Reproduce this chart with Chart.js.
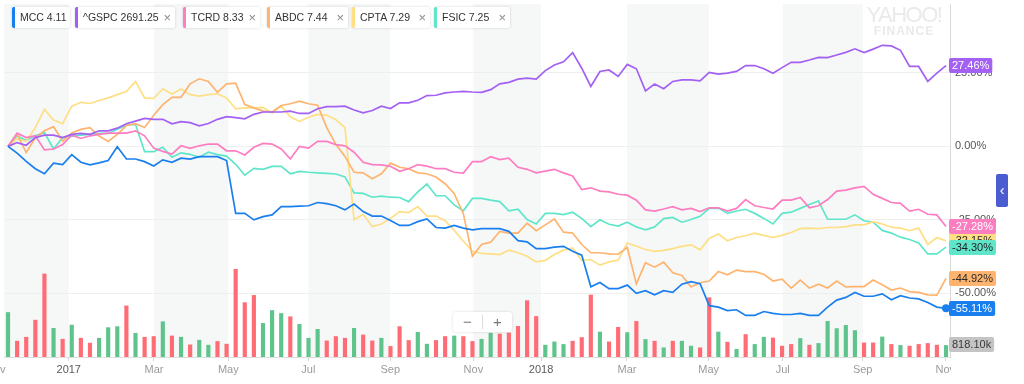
<!DOCTYPE html>
<html lang="en">
<head>
  <meta charset="UTF-8">
  <title>MCC vs peers</title>
  <script src="https://cdn.jsdelivr.net/npm/chart.js@4"></script>
  <style>
    body { margin: 0; background: #fff; font-family: 'Liberation Sans', Arial, sans-serif; }
    #wrap { position: relative; width: 1024px; height: 384px; overflow: hidden; }
    #chart { position: absolute; left: 0; top: 0; }
    .chip { position: absolute; top: 7px; height: 21px; line-height: 21px; background: #fff; color: #333;
            font-size: 10.5px; border-left: 3px solid #999; border-radius: 2px; padding-left: 5px;
            box-sizing: border-box; box-shadow: 0 0 3px rgba(0,0,0,0.16); white-space: nowrap; }
    .chip .x { position: absolute; right: 4px; top: 0; color: #8a8a8a; font-size: 13px; }
    #wm { position: absolute; left: 862px; top: 5px; width: 84px; text-align: center; color: #e8eaeb; }
    #wm .a { font-size: 22px; letter-spacing: -1.5px; line-height: 20px; }
    #wm .b { font-size: 12px; font-weight: bold; letter-spacing: 1px; line-height: 12px; }
    #zoomctl { position: absolute; left: 453px; top: 312px; width: 59px; height: 20px; background: #fff;
               border-radius: 3px; box-shadow: 0 0 3px rgba(0,0,0,0.15); color: #777; font-size: 15px;
               display: flex; align-items: center; }
    #zoomctl span { flex: 1; text-align: center; line-height: 20px; }
    #zoomctl i { width: 1px; height: 14px; background: #ddd; }
    #tab { position: absolute; left: 996px; top: 174px; width: 12px; height: 33px; background: #4b5bd0;
           border-radius: 2px; color: #fff; font-size: 14px; line-height: 33px; text-align: center; }
  </style>
</head>
<body>
<div id="wrap">
  <canvas id="chart" width="1024" height="384"></canvas>
  <div id="legend"></div>
  <div id="wm"><div class="a">YAHOO!</div><div class="b">FINANCE</div></div>
  <div id="zoomctl"><span>−</span><i></i><span>+</span></div>
  <div id="tab">‹</div>
</div>
<script>
  // ---- data (weekly, % change since Nov 2016) ----
  const symbols = ['MCC', '^GSPC', 'TCRD', 'ABDC', 'CPTA', 'FSIC'];
  const lastPrices = ['4.11', '2691.25', '8.33', '7.44', '7.29', '7.25'];

  const mcc = [0, -2.3, -5.1, -7.6, -9.3, -5.7, -6.2, -2.8, -5.4, -6.3,
    -5.6, -4.8, -0.1, -4.3, -4.3, -5.2, -6.7, -4.6, -5.4, -4.0,
    -4.3, -3.5, -3.5, -3.5, -4.8, -22.8, -22.8, -25.0, -23.9, -23.3,
    -20.5, -20.5, -20.3, -20.2, -19.1, -19.5, -20.2, -21.6, -19.6, -22.2,
    -23.7, -23.7, -25.2, -26.9, -26.9, -25.6, -24.7, -27.6, -27.8, -26.9,
    -27.8, -28.4, -28.0, -28.0, -28.0, -28.9, -32.1, -32.5, -34.8, -34.8,
    -34.3, -34.0, -35.7, -37.0, -47.8, -46.3, -48.4, -48.4, -47.2, -50.0,
    -49.1, -50.5, -49.1, -49.7, -46.9, -46.0, -46.7, -54.2, -54.7, -55.9,
    -55.6, -57.5, -57.5, -56.2, -56.8, -57.2, -57.2, -56.8, -57.5, -57.5,
    -54.7, -52.3, -51.4, -49.7, -51.0, -51.0, -50.2, -52.2, -50.8, -51.6,
    -51.9, -53.1, -54.7, -55.11];

  const gspc = [0, 1.3, 0.4, 3.0, 3.8, 3.8, 3.0, 4.1, 4.4, 4.1,
    5.3, 5.3, 6.2, 7.7, 8.6, 9.5, 9.2, 9.2, 7.7, 8.4,
    8.1, 7.0, 7.8, 9.2, 10.1, 9.8, 9.4, 10.9, 11.7, 11.7,
    11.7, 12.0, 11.2, 11.2, 12.8, 13.5, 13.5, 13.7, 12.4, 11.4,
    12.2, 13.7, 12.9, 14.8, 14.8, 15.7, 17.3, 17.4, 18.2, 18.5,
    18.7, 18.5, 18.4, 19.3, 21.3, 21.8, 22.9, 23.2, 22.9, 25.8,
    27.7, 28.8, 31.9, 26.6, 20.4, 25.5, 26.0, 23.8, 27.9, 26.4,
    18.9, 21.2, 19.6, 22.1, 22.6, 22.6, 22.3, 25.2, 24.6, 24.9,
    25.5, 27.5, 27.5, 26.4, 24.9, 26.8, 28.6, 28.6, 29.4, 30.3,
    30.2, 31.1, 32.0, 33.2, 31.9, 33.1, 34.4, 34.2, 32.7, 27.2,
    27.2, 22.1, 24.9, 27.46];

  const tcrd = [0, 4.5, 3.0, 3.6, -1.2, -0.9, 0.6, 3.8, 2.7, 3.6,
    4.1, 4.5, 4.5, 4.5, 5.3, 3.6, -0.6, -1.7, -2.6, 0.2,
    -0.7, 0.2, 0.8, 0.8, -1.5, -1.5, -2.9, -0.3, 1.0, 0.8,
    -0.9, -4.3, 0, -0.6, 1.7, 1.7, 0.6, 0.2, -2.0, -5.4,
    -6.2, -6.3, -6.8, -8.5, -7.6, -6.2, -6.7, -7.6, -7.6, -8.8,
    -9.1, -5.2, -5.2, -3.5, -4.5, -4.0, -7.1, -7.8, -9.0, -8.4,
    -7.8, -9.0, -10.1, -14.7, -14.1, -15.2, -15.5, -16.3, -16.6, -18.3,
    -21.6, -22.0, -21.3, -20.5, -21.6, -21.1, -22.2, -20.9, -20.9, -22.0,
    -21.1, -18.1, -20.2, -20.8, -21.3, -18.3, -18.3, -17.4, -20.9, -20.2,
    -18.1, -15.2, -14.9, -14.1, -13.6, -16.3, -17.7, -19.1, -19.4, -22.0,
    -21.4, -23.1, -23.3, -27.28];

  const abdc = [0, 4.1, -2.1, 2.9, 5.3, 6.7, 1.8, 4.6, 5.8, 6.4,
    3.5, 1.7, 4.1, 7.1, 7.7, 6.4, 10.6, 14.2, 16.7, 16.7,
    21.3, 23.0, 22.1, 18.4, 21.3, 21.5, 14.2, 13.1, 12.0, 11.7,
    13.9, 14.5, 15.4, 14.5, 14.0, 6.4, 0.7, -3.4, -8.8, -9.0,
    -11.0, -9.3, -5.7, -7.1, -7.6, -9.0, -9.3, -10.4, -12.7, -16.1,
    -22.9, -37.4, -33.4, -32.6, -28.9, -29.5, -29.5, -26.1, -28.7, -26.7,
    -24.7, -29.2, -29.5, -33.4, -36.2, -36.2, -36.6, -36.7, -34.4, -46.8,
    -39.6, -41.1, -39.4, -43.0, -43.9, -47.8, -46.4, -45.8, -42.6, -43.7,
    -42.1, -42.6, -42.6, -43.5, -45.8, -45.2, -48.2, -45.5, -48.2, -46.9,
    -48.2, -45.8, -47.8, -47.7, -47.7, -45.5, -47.1, -48.9, -48.2, -49.4,
    -49.7, -50.5, -50.6, -44.92];

  const cpta = [0, 2.5, 1.7, 6.4, 12.6, 9.0, 7.7, 13.7, 15.0, 14.6,
    15.6, 16.5, 17.6, 18.7, 22.1, 16.5, 16.3, 19.6, 17.8, 19.5,
    17.6, 17.1, 17.6, 17.9, 16.5, 12.8, 13.1, 13.1, 13.3, 11.4,
    13.7, 10.1, 8.5, 9.9, 10.9, 10.6, 9.1, 6.4, -25.0, -23.1,
    -27.3, -26.4, -24.5, -22.2, -22.5, -20.5, -23.7, -23.7, -25.3, -28.6,
    -32.3, -35.7, -36.4, -36.6, -36.8, -35.3, -36.2, -37.4, -39.3, -38.8,
    -36.8, -35.3, -34.6, -38.8, -38.5, -40.4, -39.3, -38.7, -32.9, -34.0,
    -35.1, -35.7, -35.4, -34.8, -34.0, -33.5, -35.2, -31.3, -29.8, -32.1,
    -31.0, -30.4, -29.5, -30.3, -31.0, -30.3, -29.3, -28.0, -27.8, -28.0,
    -27.6, -27.6, -27.3, -26.7, -26.7, -25.6, -26.4, -27.5, -27.8, -28.7,
    -27.8, -33.4, -31.0, -32.15];

  const fsic = [0, 3.6, 2.0, 3.6, 4.7, -0.9, 3.0, 3.4, 3.8, 4.1,
    4.4, 4.4, 5.8, 7.2, 7.5, -1.8, -1.8, -0.3, -3.7, -2.2,
    -2.7, -3.7, -2.0, -2.8, -3.3, -6.1, -9.8, -7.5, -7.8, -6.8,
    -6.8, -9.3, -8.5, -8.8, -9.0, -9.2, -9.4, -10.4, -15.8, -16.0,
    -17.3, -16.9, -17.3, -17.4, -18.8, -15.5, -12.8, -16.8, -16.8, -19.9,
    -21.9, -17.7, -17.7, -18.3, -18.8, -21.9, -21.4, -24.9, -26.4, -22.8,
    -22.8, -23.2, -22.4, -24.5, -27.3, -25.0, -26.5, -27.1, -25.8, -27.4,
    -28.4, -27.4, -24.6, -24.2, -25.8, -24.9, -23.8, -21.1, -21.0, -22.8,
    -22.0, -21.4, -22.8, -24.5, -26.4, -22.8, -22.4, -21.1, -19.8, -18.6,
    -24.8, -24.8, -24.8, -23.3, -25.3, -25.8, -28.6, -29.5, -30.9, -31.7,
    -32.9, -36.6, -36.6, -34.3];

  // MCC weekly volume, thousands of shares; 1 = up week (green), 0 = down week (red)
  const volume = [3150, 1120, 1400, 2610, 5880, 2030, 1260, 2260, 1330, 980,
    1330, 2080, 2150, 3620, 1680, 1400, 1450, 2500, 1490, 1400,
    860, 1190, 840, 1100, 910, 6210, 3850, 4360, 2380, 3290,
    3080, 2850, 2310, 1330, 1960, 1140, 1450, 1330, 2030, 1560,
    1140, 1330, 750, 2150, 1170, 1750, 910, 1170, 1450, 1490,
    1450, 1100, 1260, 1680, 1630, 1700, 2170, 3990, 2870, 840,
    1070, 890, 1120, 1380, 4390, 1770, 1070, 2100, 1730, 2520,
    1240, 1120, 650, 1120, 1120, 770, 650, 4200, 1770, 1050,
    540, 1590, 890, 1400, 1350, 770, 890, 1310, 840, 960,
    2520, 2010, 2240, 1870, 1000, 1000, 1420, 890, 820, 770,
    890, 960, 840, 818.1];
  const volumeUp = [1, 0, 0, 0, 0, 1, 0, 1, 0, 0,
    1, 1, 1, 0, 1, 0, 0, 1, 0, 1,
    0, 1, 1, 0, 0, 0, 0, 0, 1, 1,
    1, 0, 1, 1, 1, 0, 0, 0, 1, 0,
    0, 1, 0, 0, 0, 1, 1, 0, 0, 1,
    0, 0, 1, 1, 0, 0, 0, 0, 0, 1,
    1, 1, 0, 0, 0, 1, 0, 0, 1, 0,
    1, 0, 1, 0, 1, 1, 0, 0, 1, 0,
    1, 0, 1, 1, 0, 0, 0, 1, 0, 1,
    1, 1, 1, 1, 0, 0, 1, 0, 1, 0,
    0, 0, 0, 1];

  // month ticks, in week-index units
  const tickPos = [-1.35, 6.67, 16.03, 24.19, 32.98, 41.98, 51.1, 58.53, 67.97, 76.94, 85.07, 93.85, 102.92];
  const tickLabels = ['Nov', '2017', 'Mar', 'May', 'Jul', 'Sep', 'Nov', '2018', 'Mar', 'May', 'Jul', 'Sep', 'Nov'];
  const yTicks = [25, 0, -25, -50];

  // ---- styles ----
  const series = [mcc, gspc, tcrd, abdc, cpta, fsic];
  const lineColors = ['#1a7fee', '#a360f3', '#fd7dc1', '#feb46f', '#fedf84', '#5fe6ca'];
  const badgeText = ['#fff', '#fff', '#fff', '#2b2b2b', '#2b2b2b', '#1f1f1f'];
  const badgeOrder = [4, 1, 2, 5, 3, 0];
  const upColor = '#5ec48b', downColor = '#ff6c75';
  const FONT = '"Liberation Sans", Arial, sans-serif';
  const chipLeft = [12, 75, 183, 267, 352, 434];
  const chipWidth = [58, 100, 77, 81, 78, 76];

  // legend chips
  const legend = document.getElementById('legend');
  symbols.forEach((s, k) => {
    const d = document.createElement('div');
    d.className = 'chip';
    d.style.left = chipLeft[k] + 'px';
    d.style.width = chipWidth[k] + 'px';
    d.style.borderLeftColor = lineColors[k];
    d.textContent = s + ' ' + lastPrices[k];
    if (k > 0) {
      const x = document.createElement('span');
      x.className = 'x';
      x.textContent = '×';
      d.appendChild(x);
    }
    legend.appendChild(d);
  });

  const bands = {
    id: 'bands',
    beforeDraw(chart) {
      const { ctx, chartArea: a, scales: { x } } = chart;
      ctx.save();
      ctx.fillStyle = '#f6f7f7';
      for (let k = 0; k + 1 < tickPos.length; k += 2) {
        const l = Math.max(a.left, x.getPixelForValue(tickPos[k]));
        const r = Math.min(a.right, x.getPixelForValue(tickPos[k + 1]));
        if (r > l) ctx.fillRect(l, a.top, r - l, a.bottom - a.top);
      }
      ctx.restore();
    }
  };

  function badge(ctx, x, yc, text, bg, fg) {
    const w = ctx.measureText(text).width + 6;
    ctx.fillStyle = bg;
    ctx.beginPath();
    ctx.roundRect(x, Math.round(yc - 7.5), w, 15, 2);
    ctx.fill();
    ctx.fillStyle = fg;
    ctx.fillText(text, x + 3, yc + 0.5);
  }

  const badges = {
    id: 'badges',
    afterDraw(chart) {
      const { ctx, chartArea: a, scales: { y, vol } } = chart;
      ctx.save();
      // x labels do not run past the price scale
      ctx.fillStyle = '#fff';
      ctx.fillRect(a.right + 1, a.bottom + 1, chart.width - a.right, chart.height - a.bottom);
      ctx.font = '11px ' + FONT;
      ctx.textBaseline = 'middle';
      ctx.textAlign = 'left';
      badgeOrder.forEach(k => {
        const v = series[k][series[k].length - 1];
        badge(ctx, a.right - 1, y.getPixelForValue(v), v.toFixed(2) + '%', lineColors[k], badgeText[k]);
      });
      const lv = volume[volume.length - 1];
      badge(ctx, a.right - 1, vol.getPixelForValue(lv) - 1, lv.toFixed(2) + 'k', '#c4c4c4', '#3a3a3a');
      ctx.restore();
    }
  };

  const datasets = series.map((vals, k) => ({
    type: 'line',
    label: symbols[k],
    data: vals.map((v, i) => ({ x: i, y: v })),
    yAxisID: 'y',
    borderColor: lineColors[k],
    backgroundColor: lineColors[k],
    borderWidth: 1.7,
    tension: 0,
    pointRadius: k === 0 ? (c => c.dataIndex === vals.length - 1 ? 4 : 0) : 0,
    pointBorderWidth: 0,
    order: k + 1
  }));
  datasets.push({
    type: 'bar',
    label: 'Volume',
    data: volume.map((v, i) => ({ x: i, y: v })),
    yAxisID: 'vol',
    backgroundColor: volumeUp.map(u => u ? upColor : downColor),
    barThickness: 3.5,
    order: 20
  });

  new Chart(document.getElementById('chart'), {
    type: 'line',
    data: { datasets },
    plugins: [bands, badges],
    options: {
      responsive: false,
      animation: false,
      devicePixelRatio: 1,
      layout: { padding: { left: 3, top: 0, right: 0, bottom: 0 } },
      plugins: { legend: { display: false }, tooltip: { enabled: false } },
      scales: {
        x: {
          type: 'linear',
          min: -0.44,
          max: 103.44,
          offset: false,
          afterBuildTicks: s => { s.ticks = tickPos.map(v => ({ value: v })); },
          afterFit: s => { s.height = 27; s.paddingLeft = 0; s.paddingRight = 0; },
          grid: { offset: false, drawOnChartArea: false, tickLength: 4, color: '#d5d5d5' },
          border: { color: '#dedede' },
          ticks: {
            autoSkip: false,
            maxRotation: 0,
            padding: 2,
            font: { family: FONT, size: 11 },
            color: c => /^\d{4}$/.test(tickLabels[c.index]) ? '#5a5a5a' : '#9b9b9b',
            callback: (v, i) => tickLabels[i]
          }
        },
        y: {
          position: 'right',
          min: -71.67,
          max: 48.45,
          afterBuildTicks: s => { s.ticks = yTicks.map(v => ({ value: v })); },
          afterFit: s => { s.width = 74; s.paddingTop = 0; s.paddingBottom = 0; },
          grid: { color: '#eef0f0', drawTicks: false },
          border: { color: '#d9d9d9' },
          ticks: {
            padding: 5,
            font: { family: FONT, size: 11 },
            color: '#555',
            callback: v => v.toFixed(2) + '%'
          }
        },
        vol: { display: false, min: 0, max: 24990 }
      }
    }
  });
</script>
</body>
</html>
